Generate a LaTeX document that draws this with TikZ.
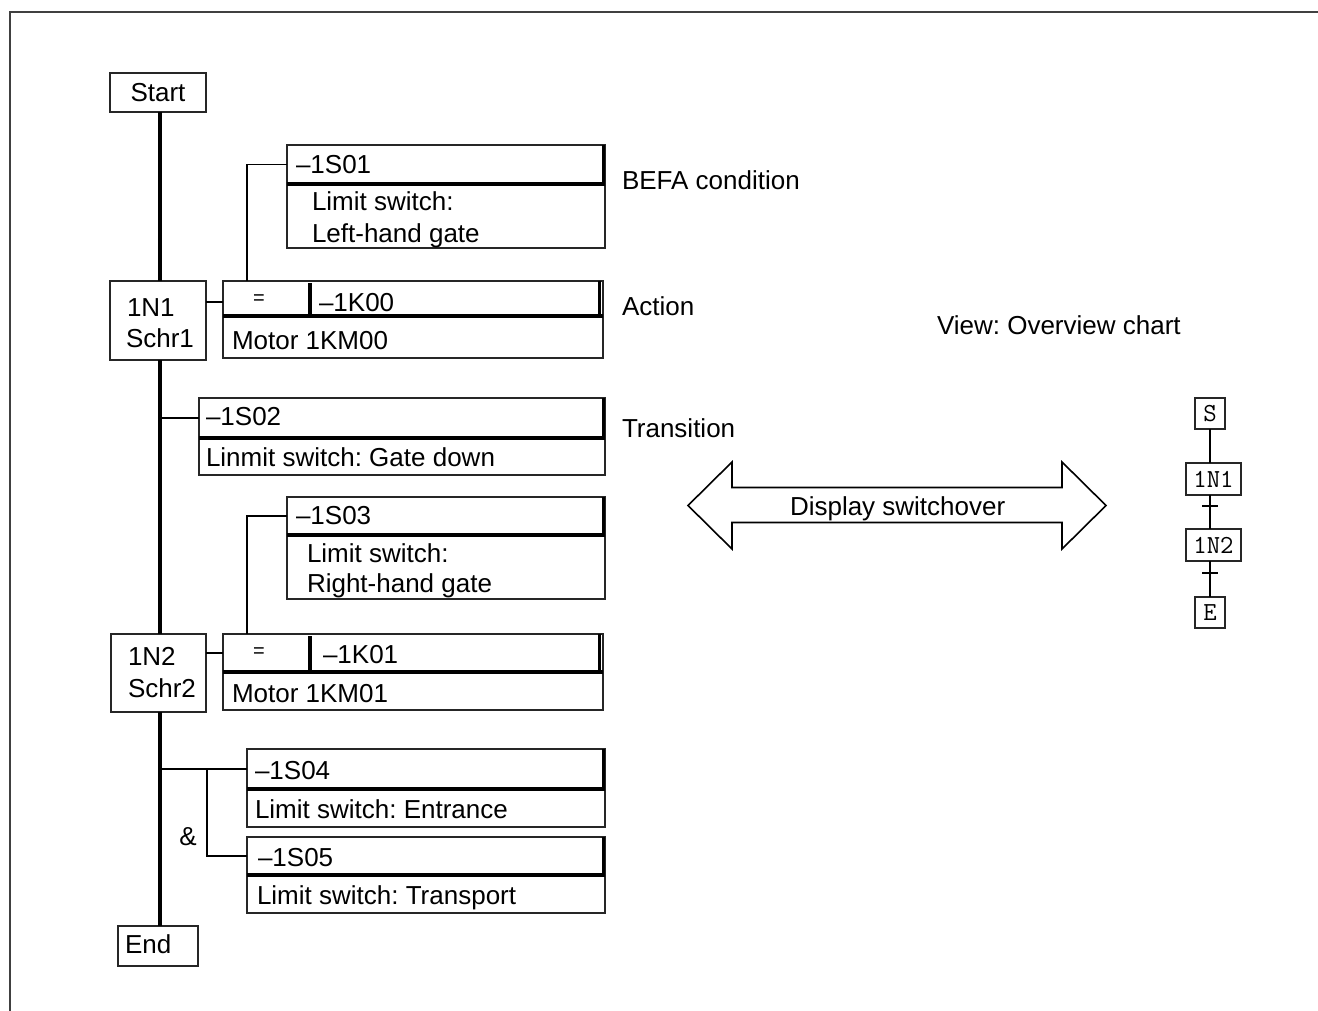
\documentclass[tikz,border=0pt]{standalone}
\usepackage{fontspec}
\setmainfont{Liberation Sans}
\frenchspacing
\begin{document}
\begin{tikzpicture}[x=0.5pt,y=-0.5pt,
  frameline/.style={draw=black!75,line width=1pt},
  boxn/.style={draw=black!85,line width=0.7pt,inner sep=0pt,outer sep=0pt,anchor=north west},
  headn/.style={inner sep=0pt,outer sep=0pt,anchor=north west},
  hbar/.style={line width=2pt},
  vbarr/.style={line width=1.6pt},
  rail/.style={line width=2pt},
  wire/.style={line width=0.8pt},
  txt/.style={inner sep=0pt,outer sep=0pt,anchor=base west,font=\fontsize{13}{15.6}\selectfont},
  ctxt/.style={inner sep=0pt,outer sep=0pt,font=\fontsize{13}{15.6}\selectfont},
  ovbox/.style={draw=black!85,line width=0.55pt,inner sep=0pt,outer sep=0pt,anchor=north west,font=\fontsize{13}{15}\ttfamily},
  ovline/.style={line width=0.55pt}
]
\useasboundingbox (0,0) rectangle (1318,1011);
% frame
\draw[frameline] (10,1011) -- (10,12.5) -- (1318,12.5);

% rail coordinate
\coordinate (r) at (160,0);

% step boxes
\node[boxn,minimum width=48pt,minimum height=19.5pt,font=\fontsize{13}{15.6}\selectfont] (start) at (110,73) {Start};
\node[boxn,minimum width=48pt,minimum height=39.5pt] (n1) at (110,281) {};
\node[boxn,minimum width=47.5pt,minimum height=39pt] (n2) at (111,634) {};
\node[boxn,minimum width=40pt,minimum height=20pt] (endb) at (118,926) {};

% rail
\draw[rail] (start.south -| r) -- (n1.north -| r);
\draw[rail] (n1.south -| r) -- (n2.north -| r);
\draw[rail] (n2.south -| r) -- (endb.north -| r);

% ---- BEFA 1 : -1S01
\node[boxn,minimum width=159pt,minimum height=51.5pt] (s01) at (287,145) {};
\node[headn,minimum width=159pt,minimum height=19.5pt] (s01h) at (287,145) {};
\draw[hbar] (s01h.south west) -- (s01h.south east);
\draw[vbarr] ([xshift=-0.8pt]s01h.north east) -- ([xshift=-0.8pt]s01h.south east);

% ---- Action 1
\node[boxn,minimum width=190pt,minimum height=38.5pt] (a1) at (223,281) {};
\node[headn,minimum width=190pt,minimum height=17.5pt] (a1h) at (223,281) {};
\draw[hbar] (a1h.south west) -- (a1h.south east);
\draw[vbarr] ([xshift=-1.6pt]a1h.north east) -- ([xshift=-1.6pt]a1h.south east);
\draw[hbar] (309.5,283) -- (309.5,0 |- a1h.south);

% ---- Transition 1 : -1S02
\node[boxn,minimum width=203pt,minimum height=38.5pt] (s02) at (199,398) {};
\node[headn,minimum width=203pt,minimum height=19.75pt] (s02h) at (199,398) {};
\draw[hbar] (s02h.south west) -- (s02h.south east);
\draw[vbarr] ([xshift=-0.8pt]s02h.north east) -- ([xshift=-0.8pt]s02h.south east);

% ---- BEFA 2 : -1S03
\node[boxn,minimum width=159pt,minimum height=51pt] (s03) at (287,497) {};
\node[headn,minimum width=159pt,minimum height=18.75pt] (s03h) at (287,497) {};
\draw[hbar] (s03h.south west) -- (s03h.south east);
\draw[vbarr] ([xshift=-0.8pt]s03h.north east) -- ([xshift=-0.8pt]s03h.south east);

% ---- Action 2
\node[boxn,minimum width=190pt,minimum height=38pt] (a2) at (223,634) {};
\node[headn,minimum width=190pt,minimum height=18.75pt] (a2h) at (223,634) {};
\draw[hbar] (a2h.south west) -- (a2h.south east);
\draw[vbarr] ([xshift=-1.6pt]a2h.north east) -- ([xshift=-1.6pt]a2h.south east);
\draw[hbar] (309.5,636) -- (309.5,0 |- a2h.south);

% ---- Transition 2 : -1S04 & -1S05
\node[boxn,minimum width=179pt,minimum height=39pt] (s04) at (247,749) {};
\node[headn,minimum width=179pt,minimum height=19.75pt] (s04h) at (247,749) {};
\draw[hbar] (s04h.south west) -- (s04h.south east);
\draw[vbarr] ([xshift=-0.8pt]s04h.north east) -- ([xshift=-0.8pt]s04h.south east);

\node[boxn,minimum width=179pt,minimum height=38pt] (s05) at (247,837) {};
\node[headn,minimum width=179pt,minimum height=18.75pt] (s05h) at (247,837) {};
\draw[hbar] (s05h.south west) -- (s05h.south east);
\draw[vbarr] ([xshift=-0.8pt]s05h.north east) -- ([xshift=-0.8pt]s05h.south east);

% connectors
\coordinate (c1) at (0,302);
\coordinate (c2) at (0,653);
\draw[wire] (n1.east |- c1) -- (a1.west |- c1);
\draw[wire] (n2.east |- c2) -- (a2.west |- c2);
\draw[wire] (s01h.west) -| ([xshift=12pt]a1.north west);
\draw[wire] (s03h.west) -| ([xshift=12pt]a2.north west);
\draw[wire] (s02h.west) -- (s02h.west -| r);
\draw[wire] (s04h.west) -- (s04h.west -| r);
\coordinate (br) at (207,768.75);
\draw[wire] (s05h.west) -| (br);

% texts
\node[txt] (t1n1) at (127,316.3) {1N1};
\node[txt] (tschr1) at (126,347.3) {Schr1};
\node[ctxt,font=\fontsize{10}{12}\selectfont] (teq1) at (259,300) {=};
\node[txt] (tk00) at (319,311.3) {–1K00};
\node[txt] (tm00) at (232,349.3) {Motor 1KM00};
\node[txt] (ts01) at (296,173.3) {–1S01};
\node[txt] (tls1) at (312,210.3) {Limit switch:};
\node[txt] (tlh) at (312,242.3) {Left-hand gate};
\node[txt] (ts02) at (206,425.8) {–1S02};
\node[txt] (tgd) at (206,466.3) {Linmit switch: Gate down};
\node[txt] (ts03) at (296,524.3) {–1S03};
\node[txt] (tls3) at (307,562.3) {Limit switch:};
\node[txt] (trh) at (307,592.3) {Right-hand gate};
\node[txt] (t1n2) at (128,665.8) {1N2};
\node[txt] (tschr2) at (128,697.3) {Schr2};
\node[ctxt,font=\fontsize{10}{12}\selectfont] (teq2) at (259,653) {=};
\node[txt] (tk01) at (323,663.8) {–1K01};
\node[txt] (tm01) at (232,702.3) {Motor 1KM01};
\node[txt] (ts04) at (255,779.8) {–1S04};
\node[txt] (tent) at (255,818.3) {Limit switch: Entrance};
\node[txt] (ts05) at (258,866.3) {–1S05};
\node[txt] (ttr) at (257,904.8) {Limit switch: Transport};
\node[ctxt] (tamp) at (188,837) {\&};
\node[txt] (tend) at (125,953.3) {End};

\node[txt] (tbefa) at (622,189.3) {BEFA condition};
\node[txt] (tact) at (622,315.3) {Action};
\node[txt] (ttrans) at (622,437.3) {Transition};
\node[txt] (tview) at (937,334.3) {View: Overview chart};

% double arrow
\draw[line width=0.8pt,line join=miter]
  (688,505.5) -- (732,462) -- (732,487.5) -- (1062,487.5) -- (1062,462)
  -- (1106,505.5) -- (1062,549) -- (1062,522.5) -- (732,522.5) -- (732,549) -- cycle;
\node[txt] (tdisp) at (790,515.3) {Display switchover};

% overview chart
\coordinate (ovx) at (1210,0);
\node[ovbox,minimum width=15pt,minimum height=15.5pt] (ovs) at (1195,398) {S};
\node[ovbox,minimum width=27.5pt,minimum height=16pt] (ov1) at (1186,463) {1N1};
\node[ovbox,minimum width=27.5pt,minimum height=16pt] (ov2) at (1186,529) {1N2};
\node[ovbox,minimum width=15pt,minimum height=15.5pt] (ove) at (1195,597) {E};
\draw[ovline] (ovs.south -| ovx) -- (ov1.north -| ovx);
\draw[ovline] (ov1.south -| ovx) -- (ov2.north -| ovx);
\draw[ovline] (ov2.south -| ovx) -- (ove.north -| ovx);
\draw[ovline] (1202,506) -- (1218,506);
\draw[ovline] (1202,573) -- (1218,573);
\end{tikzpicture}
\end{document}
